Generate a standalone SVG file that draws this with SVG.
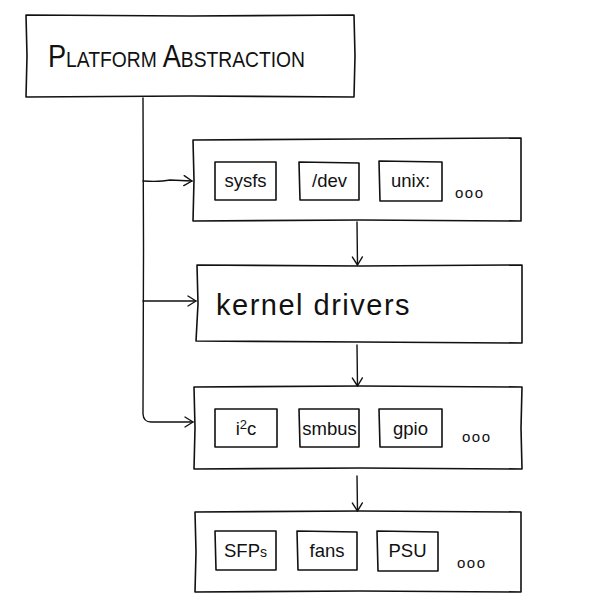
<svg xmlns="http://www.w3.org/2000/svg" width="600" height="613" viewBox="0 0 600 613">
<defs>
<style>
.b{fill:none;stroke:#111;stroke-width:1.6;stroke-linejoin:round;stroke-linecap:round}
.c{fill:none;stroke:#111;stroke-width:1.4;stroke-linecap:round}
.t{font-family:"Liberation Sans","DejaVu Sans",sans-serif;fill:#111}
.s{font-size:18.5px;text-anchor:middle}
.d{font-size:15px;letter-spacing:1.5px}
</style>
<marker id="ah" viewBox="0 0 12 12" refX="11" refY="6" markerWidth="12" markerHeight="12" markerUnits="userSpaceOnUse" orient="auto">
<path d="M3,1 L11,6 L3,11" fill="none" stroke="#111" stroke-width="1.4" stroke-linecap="round" stroke-linejoin="round"/>
</marker>
</defs>
<rect width="600" height="613" fill="#fff"/>

<g id="connectors">
<path class="c" d="M143,98 L143.5,250 L143,414 Q143.5,422 151,422 L193,422" marker-end="url(#ah)"/>
<path class="c" d="M143,181 Q160,182 170,180 L192,181" marker-end="url(#ah)"/>
<path class="c" d="M143,301 L196,301" marker-end="url(#ah)"/>
<path class="c" d="M357,222 L357.5,265" marker-end="url(#ah)"/>
<path class="c" d="M357,345 L357.5,386" marker-end="url(#ah)"/>
<path class="c" d="M357,476 L357.5,511" marker-end="url(#ah)"/>
</g>

<g id="platform">
<path class="b" d="M26,15 L190,16 L354,15 L355,56 L354,97 L190,96 L26,97 L27,56 Z"/>
<text class="t" x="48" y="67" font-size="31" font-variant="small-caps" textLength="257" lengthAdjust="spacingAndGlyphs">Platform Abstraction</text>
</g>

<g id="userspace">
<path class="b" d="M193,140 L360,139 L521,138 L521,180 L521,221 L360,220 L193,221 L194,180 Z"/>
<g id="sysfs"><path class="b" d="M215,162 L276,162 L276,200 L215,200 Z"/><text class="t s" x="245.5" y="187">sysfs</text></g>
<g id="dev"><path class="b" d="M299,162 L359,163 L359,200 L300,200 Z"/><text class="t s" x="329.5" y="187">/dev</text></g>
<g id="unix"><path class="b" d="M379,161 L442,162 L442,201 L380,201 Z"/><text class="t s" x="410.5" y="187">unix:</text></g>
<text class="t d" x="455" y="198">ooo</text>
</g>

<g id="kernel">
<path class="b" d="M197,265 L360,266 L522,265 L522,304 L522,343 L360,342 L196,341 L198,304 Z"/>
<text class="t" x="216" y="315" font-size="29" letter-spacing="1.5">kernel drivers</text>
</g>

<g id="buses">
<path class="b" d="M194,387 L360,386 L522,387 L521,428 L522,469 L360,468 L194,469 L195,428 Z"/>
<g id="i2c"><path class="b" d="M215,409 L277,409 L277,447 L215,447 Z"/><text class="t s" x="246" y="435">i<tspan dy="-6" font-size="13">2</tspan><tspan dy="6">c</tspan></text></g>
<g id="smbus"><path class="b" d="M299,409 L359,409 L359,447 L300,447 Z"/><text class="t s" x="329.5" y="435">smbus</text></g>
<g id="gpio"><path class="b" d="M379,409 L442,409 L442,447 L380,447 Z"/><text class="t s" x="410.5" y="435">gpio</text></g>
<text class="t d" x="462" y="442">ooo</text>
</g>

<g id="devices">
<path class="b" d="M195,512 L360,511 L521,512 L521,552 L521,592 L360,591 L195,592 L196,552 Z"/>
<g id="sfps"><path class="b" d="M215,531 L276,531 L276,570 L216,570 Z"/><text class="t s" x="245.5" y="557">SFP<tspan font-size="14">s</tspan></text></g>
<g id="fans"><path class="b" d="M297,531 L357,532 L357,570 L298,570 Z"/><text class="t s" x="327" y="557">fans</text></g>
<g id="psu"><path class="b" d="M377,531 L438,532 L438,571 L378,571 Z"/><text class="t s" x="407.5" y="557">PSU</text></g>
<text class="t d" x="457" y="568">ooo</text>
</g>
</svg>
